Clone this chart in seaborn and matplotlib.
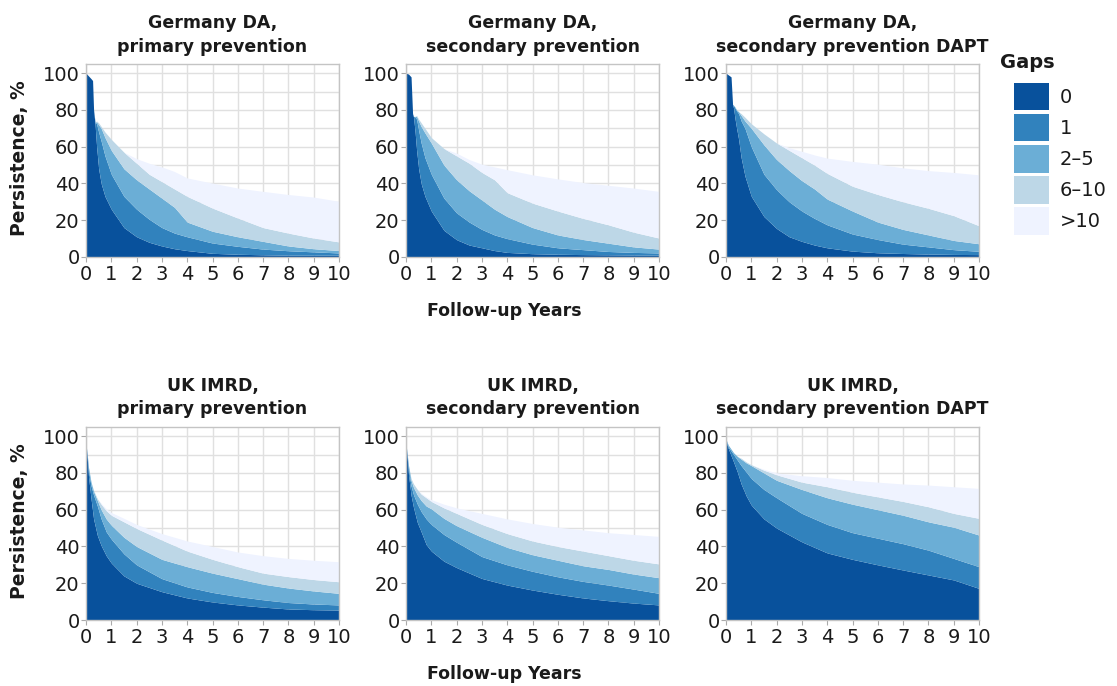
import numpy as np
import matplotlib
matplotlib.use("Agg")
import matplotlib.pyplot as plt
import seaborn as sns
from matplotlib.patches import Patch
from matplotlib.ticker import MultipleLocator

# ---------------- data (cumulative persistence, %, up to and incl. each gap class) -------------
GAP_LABELS = ["0", "1", "2–5", "6–10", ">10"]
GAP_COLORS = ["#08519c", "#3182bd", "#6baed6", "#bdd7e7", "#eff3ff"]

T_DE = [0, 0.1, 0.2, 0.26, 0.3, 0.36, 0.42, 0.5, 0.6, 0.75, 1, 1.5, 2, 2.5, 3, 3.5, 4, 5, 6, 7, 8, 9, 10]
T_UK = [0, 0.05, 0.1, 0.2, 0.3, 0.45, 0.6, 0.8, 1, 1.5, 2, 3, 4, 5, 6, 7, 8, 9, 10]

# Germany DA, primary prevention
de_prim_g0 = [100, 98.5, 97, 96, 80, 72, 60, 48, 40, 33, 26, 16, 11, 8, 6, 4.5, 3.5, 2, 1.5, 1.2, 1, 1, 1]
de_prim_g1 = [100, 98.5, 97, 96, 80, 73, 72.5, 68, 63, 55, 45, 33, 26, 20.5, 16, 13, 11, 7.6, 5.8, 4.3, 3.4, 2.8, 2.2]
de_prim_g2_5 = [100, 98.5, 97, 96, 80, 73.5, 73.5, 72, 70, 65, 58, 48, 42, 37, 32, 27, 19, 14, 11, 8.5, 6, 4.5, 3.5]
de_prim_g6_10 = [100, 98.5, 97, 96, 80, 73.5, 74, 73, 71, 68, 64, 57, 51, 45, 41, 37, 33, 26.6, 21.2, 16, 13, 10.3, 8.2]
de_prim_gt10 = [100, 98.5, 97, 96, 80, 73.5, 74, 73, 71, 68, 64, 57, 53.5, 51, 49, 46.5, 43, 40.2, 37.5, 35.7, 34, 32.6, 30.3]

# Germany DA, secondary prevention
de_sec_g0 = [100, 99.5, 98, 78, 76, 68, 58, 48, 40, 33, 25, 14.5, 9.4, 6.5, 5, 3.5, 2.5, 1.8, 1.5, 1.3, 1.2, 1.1, 1]
de_sec_g1 = [100, 99.5, 98, 78, 76.5, 76, 75, 69, 62, 54, 45, 32, 24, 19, 15, 12, 10, 7, 5, 4, 3, 2.5, 2.2]
de_sec_g2_5 = [100, 99.5, 98, 78, 76.5, 76.5, 76.5, 74, 71, 67.5, 62, 50, 42, 36, 31, 26, 22, 16, 12, 9.5, 7.5, 5.5, 4.3]
de_sec_g6_10 = [100, 99.5, 98, 78, 76.5, 76.5, 77, 75, 73, 70, 65, 59, 55, 51, 46, 42, 35, 29.3, 25, 21, 17.5, 13.5, 10.3]
de_sec_gt10 = [100, 99.5, 98, 78, 76.5, 76.5, 77, 75, 73, 70, 65, 59, 56.5, 53, 50.5, 49, 47.5, 44.7, 42.5, 40.5, 39, 37.5, 35.7]

# Germany DA, secondary prevention DAPT
de_dapt_g0 = [100, 99, 98, 83, 81, 75, 70, 64, 54, 44, 33, 22, 15.5, 11, 8.5, 6.5, 5, 3.2, 2.3, 1.9, 1.6, 1.4, 1.3]
de_dapt_g1 = [100, 99, 98, 83, 82.5, 81, 79.5, 78, 74, 70, 60, 45, 36.6, 30, 25, 21, 17.5, 12.5, 9.5, 7, 5.5, 4, 3.1]
de_dapt_g2_5 = [100, 99, 98, 83, 82.5, 81.5, 80, 79, 77, 74, 70, 61, 53, 47, 41.5, 37, 31.5, 25, 19, 15, 12, 9, 7.2]
de_dapt_g6_10 = [100, 99, 98, 83, 82.5, 81.5, 80, 79, 78, 76, 72.5, 67, 62, 58, 54, 50, 45.5, 38.5, 34, 30, 26.5, 22.5, 17]
de_dapt_gt10 = [100, 99, 98, 83, 82.5, 81.5, 80, 79, 78, 76, 72.5, 67, 62, 59.5, 57.5, 55.5, 53.8, 52, 50.5, 48.5, 47, 46, 44.7]

# UK IMRD, primary prevention
uk_prim_g0 = [96, 88, 78, 66, 55, 46, 40.5, 35, 31, 24, 20, 15.4, 12, 9.8, 8.2, 7, 6, 5.6, 5.4]
uk_prim_g1 = [96, 89, 81, 73, 68, 62, 55, 48, 44, 36, 30, 22.5, 18, 15, 12.8, 11, 9.5, 8.7, 8.2]
uk_prim_g2_5 = [96, 90, 83, 75, 70, 65, 60, 55, 51.6, 45, 40, 33, 29, 25.5, 22.5, 19.5, 17.4, 15.8, 14.5]
uk_prim_g6_10 = [96, 90, 83, 75, 70.5, 66, 63, 59.5, 57, 53.4, 49.8, 43.5, 37.5, 33, 29, 25.5, 23.6, 22, 20.8]
uk_prim_gt10 = [96, 90, 83, 75, 70.5, 66, 63.5, 60.5, 58.5, 55.3, 52, 47, 43, 40, 37, 35, 33.5, 32.5, 31.7]

# UK IMRD, secondary prevention
uk_sec_g0 = [96, 88, 79, 68, 61, 53, 48, 41, 37.5, 32, 28.5, 22.6, 19, 16.3, 14, 12, 10.5, 9.2, 8.2]
uk_sec_g1 = [96, 89, 82, 73, 68, 63, 59, 55, 52, 46.5, 42.3, 34.5, 30, 26.5, 23.5, 21, 19, 16.8, 14.5]
uk_sec_g2_5 = [96, 90, 84, 76, 72, 68, 65, 62, 60.5, 55.3, 51.3, 45, 39.5, 35.5, 32.5, 29.5, 27.5, 25, 23]
uk_sec_g6_10 = [96, 90, 84, 77, 74, 71, 68.5, 66.5, 64.5, 61, 58, 52, 47, 43, 40, 37.5, 35, 32.5, 30.5]
uk_sec_gt10 = [96, 90, 84, 77, 74, 71, 69, 67, 65.5, 63, 61, 58, 55, 52.5, 50.5, 49, 47.5, 46.5, 45.5]

# UK IMRD, secondary prevention DAPT
uk_dapt_g0 = [98.5, 95, 93, 89.5, 86, 80.5, 74, 67.5, 62.5, 55, 50, 42.5, 36.5, 33, 30, 27.2, 24.5, 21.8, 17.2]
uk_dapt_g1 = [98.5, 96, 94, 92, 90, 87, 84, 80.5, 77, 71, 66.5, 58, 52, 47.5, 44.5, 41.5, 38, 33.5, 29]
uk_dapt_g2_5 = [98.5, 96.5, 95, 93, 91, 89, 87.5, 85.5, 84, 80, 76, 71, 66.5, 63, 60, 57, 53.4, 50.5, 46.2]
uk_dapt_g6_10 = [98.5, 96.5, 95, 93, 91, 89, 88, 86, 84.5, 81.5, 79, 75, 72.5, 69.5, 67, 64.5, 61.6, 58, 55.3]
uk_dapt_gt10 = [98.5, 96.5, 95, 93, 91, 89, 88, 86, 84.5, 82, 80, 78.5, 77.5, 76, 75, 74, 73.4, 72.5, 71.6]

TITLES = [
    "Germany DA,\nprimary prevention",
    "Germany DA,\nsecondary prevention",
    "Germany DA,\nsecondary prevention DAPT",
    "UK IMRD,\nprimary prevention",
    "UK IMRD,\nsecondary prevention",
    "UK IMRD,\nsecondary prevention DAPT",
]
X_TICKS = list(range(0, 11))
Y_TICKS = [0, 20, 40, 60, 80, 100]

PANELS = [
    (T_DE, [de_prim_g0, de_prim_g1, de_prim_g2_5, de_prim_g6_10, de_prim_gt10]),
    (T_DE, [de_sec_g0, de_sec_g1, de_sec_g2_5, de_sec_g6_10, de_sec_gt10]),
    (T_DE, [de_dapt_g0, de_dapt_g1, de_dapt_g2_5, de_dapt_g6_10, de_dapt_gt10]),
    (T_UK, [uk_prim_g0, uk_prim_g1, uk_prim_g2_5, uk_prim_g6_10, uk_prim_gt10]),
    (T_UK, [uk_sec_g0, uk_sec_g1, uk_sec_g2_5, uk_sec_g6_10, uk_sec_gt10]),
    (T_UK, [uk_dapt_g0, uk_dapt_g1, uk_dapt_g2_5, uk_dapt_g6_10, uk_dapt_gt10]),
]

# ---------------- style ----------------
sns.set_theme(style="white")
plt.rcParams["font.family"] = ["DejaVu Sans"]
palette = sns.color_palette(GAP_COLORS)
TXT = "#1a1a1a"

W, H = 1117, 686
fig = plt.figure(figsize=(W / 100, H / 100), dpi=100)

lefts_px = [86, 406, 726]
bottoms_px = [257, 620]
ax_w_px, ax_h_px = 253, 193

for i, (t, curves) in enumerate(PANELS):
    row, col = divmod(i, 3)
    l = lefts_px[col] / W
    b = 1 - bottoms_px[row] / H
    ax = fig.add_axes([l, b, ax_w_px / W, ax_h_px / H])
    ax.set_axisbelow(True)
    lower = np.zeros(len(t))
    for k, upper in enumerate(curves):
        upper = np.asarray(upper, dtype=float)
        ax.fill_between(t, lower, upper, color=palette[k], linewidth=0, zorder=2)
        lower = upper
    ax.set_xlim(0, 10)
    ax.set_ylim(0, 105)
    ax.set_xticks(X_TICKS)
    ax.set_yticks(Y_TICKS)
    ax.yaxis.set_minor_locator(MultipleLocator(10))
    ax.grid(True, which="major", axis="x", color="#e0e0e0", linewidth=1.0)
    ax.grid(True, which="both", axis="y", color="#e0e0e0", linewidth=1.0)
    ax.tick_params(axis="both", which="major", labelsize=14, length=3.5, width=0.8,
                   color="#aaaaaa", labelcolor=TXT, direction="out",
                   bottom=True, left=True)
    ax.tick_params(axis="x", pad=2)
    ax.tick_params(axis="y", pad=1)
    ax.tick_params(axis="y", which="minor", length=0)
    for sp in ax.spines.values():
        sp.set_color("#c4c4c4")
        sp.set_linewidth(1.0)
    ax.set_title(TITLES[i], fontsize=12.5, fontweight="bold", color=TXT,
                 pad=9, linespacing=1.4)
    if col == 0:
        fig.text(20 / W, 1 - (bottoms_px[row] - ax_h_px / 2 - 2) / H, "Persistence, %",
                 rotation=90, fontsize=13.5, fontweight="bold", color=TXT,
                 ha="center", va="center")
    if col == 1:
        fig.text(504 / W, 1 - (bottoms_px[row] + 54) / H, "Follow-up Years",
                 fontsize=12.5, fontweight="bold", color=TXT,
                 ha="center", va="center")

# legend
handles = [Patch(facecolor=palette[k], edgecolor="none") for k in range(len(GAP_LABELS))]
fs = 14
fpx = fs * 100 / 72
leg = fig.legend(handles, GAP_LABELS, loc="upper left",
                 bbox_to_anchor=(1014 / W, 1 - 83 / H),
                 frameon=False, fontsize=fs, borderpad=0, borderaxespad=0,
                 handlelength=35 / fpx, handleheight=34.7 / fpx,
                 labelspacing=3.8 / fpx, handletextpad=11 / fpx)
for txt in leg.get_texts():
    txt.set_color(TXT)
fig.text(1000 / W, 1 - 62 / H, "Gaps", fontsize=14, fontweight="bold",
         color=TXT, ha="left", va="center")

fig.savefig("out.png", dpi=100, facecolor="white")
